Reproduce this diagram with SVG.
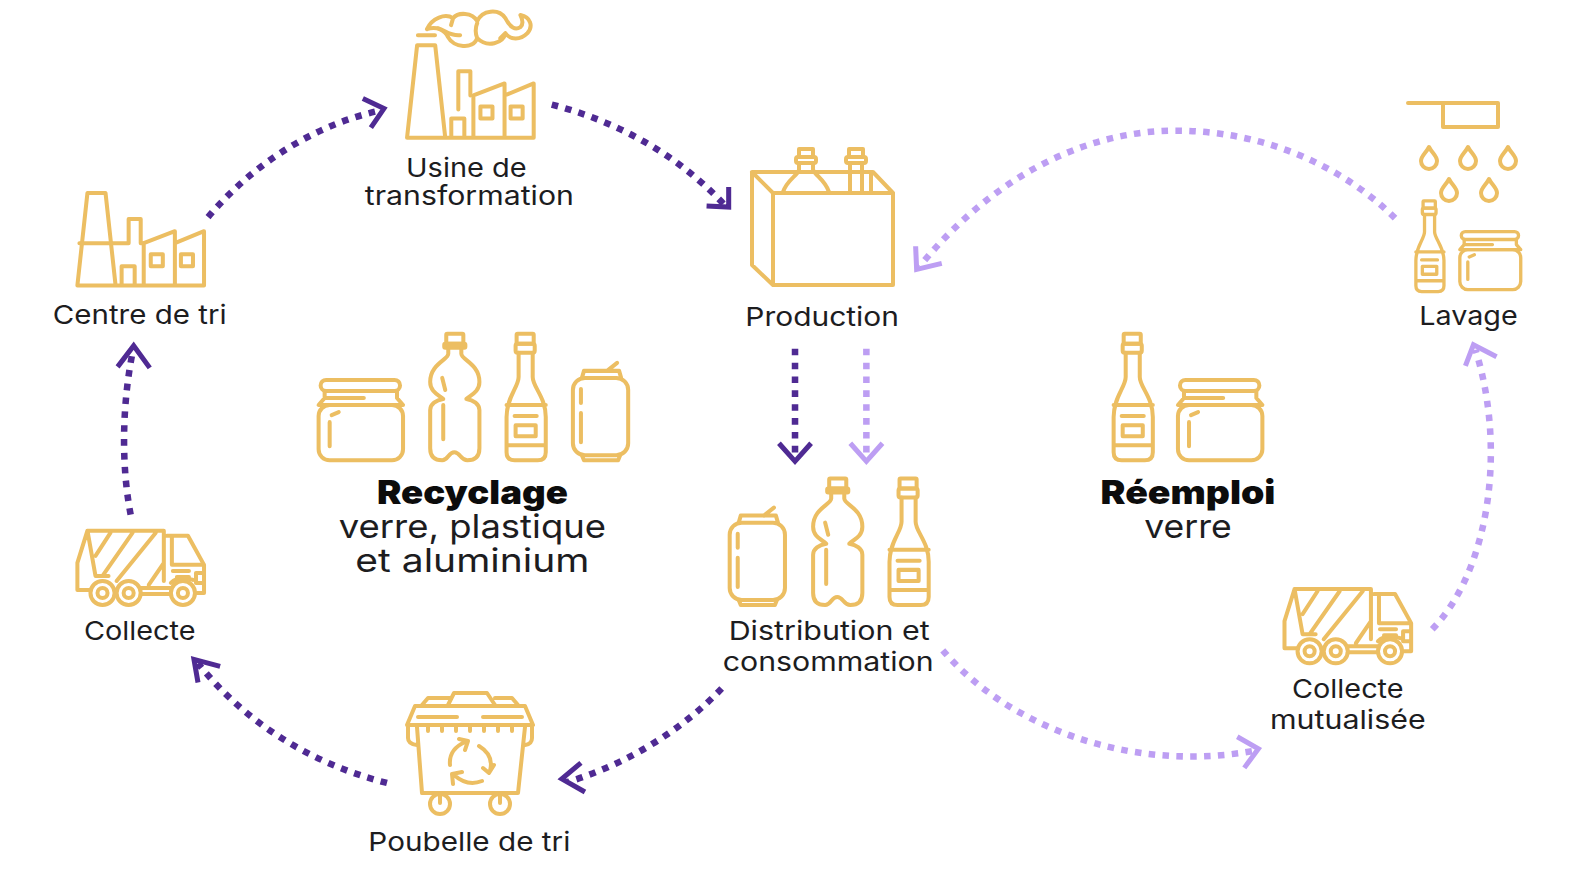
<svg xmlns="http://www.w3.org/2000/svg" width="1576" height="874" viewBox="0 0 1576 874">
<style>
text{font-family:"Inter","Liberation Sans",sans-serif;font-size:26px;font-weight:400;fill:#1d1d1f;text-anchor:middle}
.big{font-size:33px;font-weight:400}
.bold{font-weight:900;fill:#0c0c0c}
.ic{fill:none;stroke:#ecbe62;stroke-width:4;stroke-linejoin:round;stroke-linecap:round}
.sm{stroke-width:4.6}
.dark,.light{fill:none;stroke-width:6.5;stroke-dasharray:6.5 7.3}
.dark{stroke:#4f2a93}.light{stroke:#bd9ef3}
.hd,.hl{fill:none;stroke-width:5;stroke-linejoin:miter}
.hd{stroke:#4f2a93}.hl{stroke:#bd9ef3}
</style>
<defs>
<g id="jar"><rect x="319" y="378" width="79" height="11" rx="5.5"/><path d="M323 389V396L317 403H401L395 396V389M323 396H362"/><rect x="317" y="403" width="84" height="55" rx="11"/><path d="M328 420V444M330 413L337 410"/></g>
<g id="pet"><rect x="444" y="332" width="17" height="10" rx="1"/><rect x="442" y="342" width="21" height="4" rx="1"/><path d="M446 346V352C446 358 428 362 428 380C428 390 437 393 441 397C434 398 428 402 428 408V446C428 454 432 458 440 458C446 458 446 450 452 450C458 450 458 458 465 458C473 458 477 454 477 446V408C477 402 471 398 464 397C468 393 477 390 477 380C477 362 459 358 459 352V346M440 376L443 388M441 403V437"/></g>
<g id="glass"><rect x="514" y="332" width="17" height="10" rx="1"/><rect x="513" y="342" width="19" height="9" rx="2"/><path d="M516 351V375C516 385 504 395 504 415V450Q504 458 512 458H535Q543 458 543 450V415C543 395 530 385 530 375V351M504 403H543M504 443H543M512 414H534"/><rect x="513" y="423" width="20" height="11"/></g>
<g id="can"><rect x="570" y="376" width="55" height="77" rx="12"/><path d="M579 376L581 369H616L618 376M604 369L614 361M579 453L581 458H615L617 453M578 387V401M578 411V440"/></g>
<g id="factory"><path d="M77 284H203V230L174 242V284M174 242V230L143 242V284M77 284L87 192H105L115 284M121 284V265H134V284"/><rect x="150" y="253" width="12" height="12"/><rect x="180" y="253" width="12" height="12"/></g>
<g id="truck"><path d="M89 587H77V560L87 528H163V578M87 528L95 573H108M95 553L110 530M102 573L132 530M116 578L155 530M148 582L163 560M166 533H187L203 562V590H196M171 534V562H203M140 585H170M140 591H170M170 580Q178 572 192 577M172 568H188M176 574H188M195 570H203V580H195Z"/><circle cx="102" cy="590" r="12"/><circle cx="102" cy="590" r="5"/><circle cx="128" cy="590" r="12"/><circle cx="128" cy="590" r="5"/><circle cx="182" cy="590" r="12"/><circle cx="182" cy="590" r="5"/></g>
</defs>

<g id="connectors" transform="scale(1.00508)">
<path class="dark" d="M207 216C250 165 310 125 378 110"/><path class="hd" d="M361 98L382 108L369 127"/>
<path class="dark" d="M549 104C610 120 670 150 720 203"/><path class="hd" d="M703 205L725 206L725 186"/>
<path class="dark" d="M791 347V455"/><path class="hd" d="M775 441L791 459L807 441"/>
<path class="dark" d="M718 685C680 725 625 760 565 778"/><path class="hd" d="M578 759L559 775L582 788"/>
<path class="dark" d="M385 779C310 760 245 720 197 660"/><path class="hd" d="M197 679L193 656L219 663"/>
<path class="dark" d="M130 512C120 460 122 400 132 350"/><path class="hd" d="M117 365L133 344L149 366"/>
<path class="light" d="M862 347V455"/><path class="hl" d="M846 441L862 459L878 441"/>
<path class="light" d="M938 647C1000 720 1120 770 1248 747"/><path class="hl" d="M1231 733L1252 745L1238 764"/>
<path class="light" d="M1425 626C1480 570 1500 450 1468 348"/><path class="hl" d="M1458 364L1466 343L1489 355"/>
<path class="light" d="M1388 217C1330 160 1250 130 1170 130C1070 130 980 185 915 265"/><path class="hl" d="M911 245L912 268L937 262"/>
</g>

<g transform="scale(1.00508)">
<g id="usine"><g class="ic" transform="translate(328,-147)"><use href="#factory"/><path d="M128 256V218H140V242"/></g>
<path class="ic" transform="translate(-2.2,0)" d="M418 35H435M427 29C432 18 445 13 453 18C458 12 472 12 477 21C482 10 498 8 505 18C510 28 515 30 520 27C523 24 522 19 520 15C530 17 533 26 527 33C520 40 510 40 505 33C503 43 487 48 477 38C473 50 453 47 448 37C445 30 437 26 427 29M451 25L453 18M477 23C475 28 475 33 477 38M438 28C445 30 450 36 460 35M505 33L500 38"/>
<text x="464" y="176" textLength="120" lengthAdjust="spacingAndGlyphs">Usine de</text><text x="467" y="204" textLength="208" lengthAdjust="spacingAndGlyphs">transformation</text></g>
<g id="centre"><g class="ic"><use href="#factory"/><path d="M79 242H128V218H140V242H143"/></g><text x="139" y="322" textLength="173" lengthAdjust="spacingAndGlyphs">Centre de tri</text></g>
<g id="collecte"><g class="ic"><use href="#truck"/></g><text x="139" y="637" textLength="111" lengthAdjust="spacingAndGlyphs">Collecte</text></g>
<g id="recyclage"><g class="ic"><use href="#jar"/><use href="#pet"/><use href="#glass"/><use href="#can"/></g>
<text class="big"><tspan class="bold" x="470" y="501" textLength="190" lengthAdjust="spacingAndGlyphs">Recyclage</tspan><tspan x="470" y="535" textLength="266" lengthAdjust="spacingAndGlyphs">verre, plastique</tspan><tspan x="470" y="569" textLength="233" lengthAdjust="spacingAndGlyphs">et aluminium</tspan></text></g>
<g id="reemploi"><g class="ic"><use href="#glass" transform="translate(604,0)"/><use href="#jar" transform="translate(855,0)"/></g>
<text class="big"><tspan class="bold" x="1182" y="501" textLength="174" lengthAdjust="spacingAndGlyphs">Réemploi</tspan><tspan x="1182" y="535" textLength="87" lengthAdjust="spacingAndGlyphs">verre</tspan></text></g>
<g id="distribution"><g class="ic"><use href="#can" transform="translate(156,144)"/><use href="#pet" transform="translate(381,144)"/><use href="#glass" transform="translate(381,144)"/></g>
<text x="825" y="637" textLength="200" lengthAdjust="spacingAndGlyphs">Distribution et</text><text x="824" y="668" textLength="210" lengthAdjust="spacingAndGlyphs">consommation</text></g>
<g id="mutualisee"><g class="ic" transform="translate(1201,58)"><use href="#truck"/></g><text x="1341" y="694" textLength="111" lengthAdjust="spacingAndGlyphs">Collecte</text><text x="1341" y="725" textLength="155" lengthAdjust="spacingAndGlyphs">mutualisée</text></g>
<g id="production"><text x="818" y="324" textLength="153" lengthAdjust="spacingAndGlyphs">Production</text></g>
<g id="lavage"><text x="1461" y="323" textLength="98" lengthAdjust="spacingAndGlyphs">Lavage</text></g>
<g id="poubelle"><text x="467" y="847" textLength="201" lengthAdjust="spacingAndGlyphs">Poubelle de tri</text></g>
</g>

<g id="production-icon" class="ic">
<path d="M773 193H893V285H773ZM752 172H873L893 193M752 172L773 193M752 172V265L773 285"/>
<path d="M783 192C787 180 797 176 799 170V163H813V170C816 176 825 180 829 192"/>
<rect x="799" y="149" width="14" height="8"/><rect x="796" y="157" width="20" height="6" rx="2"/>
<rect x="849" y="149" width="14" height="8"/><rect x="846" y="157" width="20" height="6" rx="2"/>
<path d="M850 163V192M862 163V192M871 174V192"/>
</g>
<g id="lavage-icon" class="ic">
<path d="M1408 103H1498V127H1443V103"/>
<g id="drops"><path id="d1" d="M1429 147C1432 153 1437 156 1437 161A8 8 0 0 1 1421 161C1421 156 1426 153 1429 147Z"/>
<use href="#d1" x="39"/><use href="#d1" x="79"/><use href="#d1" x="20" y="32"/><use href="#d1" x="60" y="32"/></g>
<g class="sm" transform="translate(1053,-38.2) scale(.72)"><use href="#glass"/></g>
<g class="sm" transform="translate(1230,-42.5) scale(.725)"><use href="#jar"/></g>
</g>
<g id="poubelle-icon" class="ic">
<path d="M422 705L428 698H450M495 698H512L518 705M448 705L454 693H487L495 705"/>
<path d="M415 706H525L533 725H407ZM418 717H457M483 717H522"/>
<path d="M417 727L422 793H518L525 727M408 727V738Q408 744 417 745M532 727V738Q532 744 525 745M428 727V731M442 727V731M456 727V731M470 727V731M484 727V731M498 727V731M512 727V731"/>
<circle cx="440" cy="804" r="10"/><circle cx="500" cy="804" r="10"/><path d="M440 795V803M500 795V803"/>
<path d="M450 765C449 755 454 747 465 742M459 739L468 741L465 750M479 746C489 752 493 760 490 771M483 768L489 773L494 765M482 781C472 785 463 783 454 775M453 784L452 774L462 772"/>
</g>
</svg>
